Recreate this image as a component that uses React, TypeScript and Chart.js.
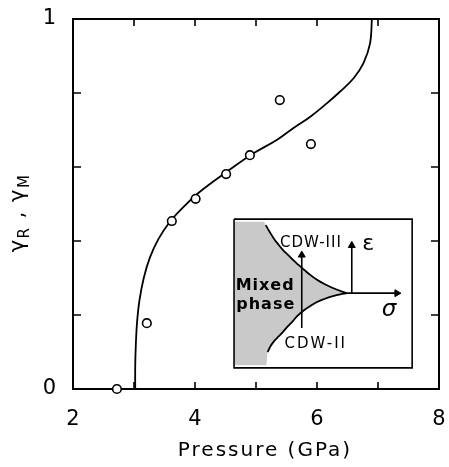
import React, { useEffect, useRef } from 'react';
import { Chart, registerables } from 'chart.js';

Chart.register(...registerables);

// Fitted curve gamma(P)
const curvePressure = [3.02, 3.02, 3.03, 3.05, 3.09, 3.16, 3.26, 3.40, 3.58, 3.80, 4.08, 4.52, 4.96, 5.34, 5.61, 5.89, 6.16, 6.38, 6.60, 6.76, 6.87, 6.90];
const curveGamma = [0, 0.06, 0.12, 0.18, 0.24, 0.30, 0.355, 0.405, 0.45, 0.49, 0.533, 0.587, 0.637, 0.673, 0.705, 0.736, 0.772, 0.804, 0.840, 0.880, 0.934, 1.0];

// Measured points
const obsPressure = [2.72, 3.21, 3.62, 4.01, 4.51, 4.90, 5.39, 5.90];
const obsGamma = [0, 0.178, 0.454, 0.514, 0.581, 0.632, 0.781, 0.662];

// Tick labels
const xTickLabels = [2, 4, 6, 8];
const yTickLabels = [0, 1];

// Inset phase diagram (in main-plot coordinates)
const insetBoxX = [4.64, 7.56, 7.56, 4.64, 4.64];
const insetBoxY = [0.459, 0.459, 0.057, 0.057, 0.459];
const upperX = [5.16, 5.23, 5.30, 5.37, 5.44, 5.52, 5.60, 5.67, 5.75, 5.87, 6.00, 6.13, 6.26, 6.38, 6.49];
const upperY = [0.443, 0.423, 0.405, 0.390, 0.376, 0.363, 0.350, 0.339, 0.328, 0.311, 0.295, 0.283, 0.273, 0.265, 0.259];
const lowerX = [5.19, 5.24, 5.30, 5.37, 5.44, 5.52, 5.60, 5.67, 5.75, 5.87, 6.00, 6.13, 6.26, 6.38, 6.49];
const lowerY = [0.100, 0.116, 0.130, 0.142, 0.154, 0.169, 0.183, 0.196, 0.208, 0.222, 0.235, 0.244, 0.251, 0.256, 0.259];
const mixedTopX = [4.655, 5.13];
const mixedTopY = [0.452, 0.452];
const mixedBottomX = [4.655, 5.17];
const mixedBottomY = [0.064, 0.064];
const sigmaArrowX = [6.49, 7.31];
const sigmaArrowY = [0.259, 0.259];
const epsArrowX = [6.57, 6.57];
const epsArrowY = [0.259, 0.388];
const midArrowX = [5.75, 5.75];
const midArrowY = [0.165, 0.362];

const insetLabels = [
  { text: 'CDW-III', x: 5.90, y: 0.395, font: '15px "DejaVu Sans"', spacing: '1px' },
  { text: 'CDW-II', x: 5.98, y: 0.122, font: '15px "DejaVu Sans"', spacing: '2px' },
  { text: 'Mixed', x: 5.15, y: 0.278, font: 'bold 16px "DejaVu Sans"', spacing: '1px' },
  { text: 'phase', x: 5.16, y: 0.227, font: 'bold 16px "DejaVu Sans"', spacing: '1px' },
  { text: 'ε', x: 6.84, y: 0.392, font: '22px "DejaVu Sans"', spacing: '0px' },
  { text: 'σ', x: 7.18, y: 0.214, font: 'italic 23px "DejaVu Sans"', spacing: '0px' },
];

const xTitle = 'Pressure (GPa)';
const yTitleParts = [
  { t: 'γ', sub: false },
  { t: 'R', sub: true },
  { t: ' , ', sub: false },
  { t: 'γ', sub: false },
  { t: 'M', sub: true },
];

const mixedFill = '#c9c9c9';

const pts = (xs: number[], ys: number[]) => xs.map((x, i) => ({ x, y: ys[i] }));

const framePlugin = {
  id: 'frame',
  beforeDatasetsDraw(chart: any) {
    const { ctx, chartArea: a, scales } = chart;
    const xs = scales.x;
    const ys = scales.y;
    ctx.save();
    // mixed-phase shaded region of the inset, through the chart scales
    const outline = [
      ...pts(mixedTopX, mixedTopY),
      ...pts(upperX, upperY),
      ...pts(lowerX, lowerY).reverse(),
      ...pts(mixedBottomX, mixedBottomY).reverse(),
    ];
    ctx.beginPath();
    outline.forEach((p, i) => {
      const px = xs.getPixelForValue(p.x);
      const py = ys.getPixelForValue(p.y);
      if (i === 0) ctx.moveTo(px, py);
      else ctx.lineTo(px, py);
    });
    ctx.closePath();
    ctx.fillStyle = mixedFill;
    ctx.fill();

    ctx.strokeStyle = '#000';
    ctx.lineWidth = 2;
    ctx.strokeRect(a.left, a.top, a.right - a.left, a.bottom - a.top);
    ctx.lineWidth = 1.6;
    xs.ticks.forEach((t: any) => {
      const px = xs.getPixelForValue(t.value);
      if (px <= a.left + 1 || px >= a.right - 1) return;
      ctx.beginPath();
      ctx.moveTo(px, a.bottom);
      ctx.lineTo(px, a.bottom - 7);
      ctx.moveTo(px, a.top);
      ctx.lineTo(px, a.top + 7);
      ctx.stroke();
    });
    ys.ticks.forEach((t: any) => {
      const py = ys.getPixelForValue(t.value);
      if (py <= a.top + 1 || py >= a.bottom - 1) return;
      ctx.beginPath();
      ctx.moveTo(a.left, py);
      ctx.lineTo(a.left + 8, py);
      ctx.moveTo(a.right, py);
      ctx.lineTo(a.right - 8, py);
      ctx.stroke();
    });
    ctx.restore();
  },
};

const textPlugin = {
  id: 'texts',
  afterDatasetsDraw(chart: any) {
    const { ctx, chartArea: a, scales } = chart;
    const xs = scales.x;
    const ys = scales.y;
    ctx.save();
    ctx.fillStyle = '#000';
    ctx.textAlign = 'center';
    ctx.textBaseline = 'middle';
    insetLabels.forEach((l) => {
      ctx.font = l.font;
      (ctx as any).letterSpacing = l.spacing;
      ctx.fillText(l.text, xs.getPixelForValue(l.x), ys.getPixelForValue(l.y));
    });
    // x title
    ctx.font = '20px "DejaVu Sans"';
    (ctx as any).letterSpacing = '2px';
    ctx.fillText(xTitle, (a.left + a.right) / 2 + 9, a.bottom + 62);
    // y title (rotated, with subscripts)
    ctx.translate(19, (a.top + a.bottom) / 2 + 9);
    ctx.rotate(-Math.PI / 2);
    ctx.textAlign = 'left';
    ctx.textBaseline = 'alphabetic';
    (ctx as any).letterSpacing = '1.5px';
    const mainFont = '21px "DejaVu Sans"';
    const subFont = '15px "DejaVu Sans"';
    let total = 0;
    yTitleParts.forEach((p) => {
      ctx.font = p.sub ? subFont : mainFont;
      total += ctx.measureText(p.t).width;
    });
    let cx = -total / 2;
    yTitleParts.forEach((p) => {
      ctx.font = p.sub ? subFont : mainFont;
      ctx.fillText(p.t, cx, p.sub ? 10 : 5);
      cx += ctx.measureText(p.t).width;
    });
    ctx.restore();
  },
};

const noOverhang = (s: any) => {
  s.paddingTop = 0;
  s.paddingBottom = 0;
  s.paddingLeft = 0;
  s.paddingRight = 0;
};

export default function App() {
  const ref = useRef<HTMLCanvasElement | null>(null);
  useEffect(() => {
    document.body.style.margin = '0';
    const canvas = ref.current;
    if (!canvas) return;
    const arrowBase = {
      showLine: true,
      borderColor: '#000',
      borderWidth: 1.6,
      tension: 0,
      pointStyle: 'triangle',
      pointBackgroundColor: '#000',
      pointBorderColor: '#000',
      pointBorderWidth: 1,
      pointRadius: [0, 4],
      fill: false,
    };
    const curveBase = {
      showLine: true,
      borderColor: '#000',
      borderWidth: 1.8,
      pointRadius: 0,
      tension: 0.4,
      fill: false,
    };
    const chart = new Chart(canvas, {
      type: 'scatter',
      data: {
        datasets: [
          {
            label: 'measured',
            data: pts(obsPressure, obsGamma),
            showLine: false,
            pointRadius: 4.3,
            pointBorderWidth: 1.6,
            pointBackgroundColor: '#fff',
            pointBorderColor: '#000',
            clip: false,
            order: 0,
          } as any,
          { label: 'fit', data: pts(curvePressure, curveGamma), ...curveBase, order: 1 } as any,
          { label: 'upper', data: pts(upperX, upperY), ...curveBase, order: 2 } as any,
          { label: 'lower', data: pts(lowerX, lowerY), ...curveBase, order: 2 } as any,
          { label: 'sigma', data: pts(sigmaArrowX, sigmaArrowY), ...arrowBase, pointRotation: [0, 90], order: 2 } as any,
          { label: 'eps', data: pts(epsArrowX, epsArrowY), ...arrowBase, pointRotation: [0, 0], order: 2 } as any,
          { label: 'mid', data: pts(midArrowX, midArrowY), ...arrowBase, pointRotation: [0, 0], order: 2 } as any,
          {
            label: 'box',
            data: pts(insetBoxX, insetBoxY),
            showLine: true,
            borderColor: '#000',
            borderWidth: 1.6,
            pointRadius: 0,
            tension: 0,
            fill: false,
            order: 5,
          } as any,
        ],
      },
      options: {
        animation: false,
        responsive: false,
        maintainAspectRatio: false,
        devicePixelRatio: 1,
        layout: { padding: { top: 19, right: 10, left: 0, bottom: 0 } },
        plugins: { legend: { display: false }, tooltip: { enabled: false } },
        scales: {
          x: {
            type: 'linear',
            min: 2,
            max: 8,
            grid: { display: false, drawTicks: false },
            border: { display: false },
            ticks: {
              stepSize: 1,
              padding: 18,
              color: '#000',
              font: { family: 'DejaVu Sans', size: 21 },
              callback: (v: any) => (xTickLabels.includes(Number(v)) ? String(v) : ''),
              maxRotation: 0,
              autoSkip: false,
            },
            afterFit: (s: any) => {
              s.height = 78;
              noOverhang(s);
            },
          },
          y: {
            type: 'linear',
            min: 0,
            max: 1,
            grid: { display: false, drawTicks: false },
            border: { display: false },
            ticks: {
              stepSize: 0.2,
              padding: 17,
              color: '#000',
              font: { family: 'DejaVu Sans', size: 21 },
              callback: (v: any) => {
                const n = Number(v);
                const hit = yTickLabels.find((t) => Math.abs(t - n) < 1e-9);
                return hit !== undefined ? String(hit) : '';
              },
              autoSkip: false,
            },
            afterFit: (s: any) => {
              s.width = 73;
              noOverhang(s);
            },
          },
        },
      },
      plugins: [framePlugin, textPlugin],
    } as any);
    return () => chart.destroy();
  }, []);
  return (
    <div style={{ width: 449, height: 467 }}>
      <canvas ref={ref} width={449} height={467} style={{ display: 'block' }} />
    </div>
  );
}
